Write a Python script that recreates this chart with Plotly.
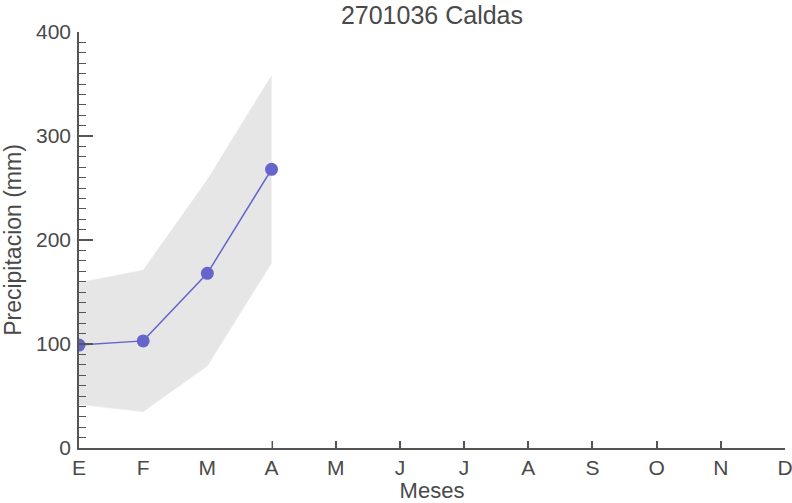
import plotly.graph_objects as go

months = ["E", "F", "M", "A", "M", "J", "J", "A", "S", "O", "N", "D"]
mean_x = [0, 1, 2, 3]
mean_vals = [99, 103, 168, 268]
band_low = [42, 35, 79, 178]
band_high = [159, 171, 258, 358]

TXT = "#4a4a4a"
AX = "#555555"
FONT = "Liberation Sans, Arial, Helvetica, sans-serif"

fig = go.Figure()
# white area from zero up to the lower bound (hides the inner x ticks like the original)
fig.add_trace(go.Scatter(x=mean_x, y=band_low, mode="lines", fill="tozeroy",
                         fillcolor="white", line=dict(color="#ececec", width=1),
                         hoverinfo="skip", showlegend=False))
# gray band
fig.add_trace(go.Scatter(x=mean_x, y=band_high, mode="lines", fill="tonexty",
                         fillcolor="#e6e6e6", line=dict(color="#e6e6e6", width=0.5),
                         hoverinfo="skip", showlegend=False))
# mean line
fig.add_trace(go.Scatter(x=mean_x, y=mean_vals, mode="lines+markers",
                         line=dict(color="#6565cc", width=1.5),
                         marker=dict(color="#6565cc", size=13),
                         showlegend=False))

fig.update_layout(
    width=792, height=503,
    margin=dict(l=79, r=7, t=32, b=55, autoexpand=False),
    paper_bgcolor="white", plot_bgcolor="white",
    font=dict(family=FONT, color=TXT, size=21),
    title=dict(text="2701036 Caldas", x=0.5454, xanchor="center",
               y=0.969, yanchor="middle", font=dict(size=25, color=TXT)),
)
fig.update_xaxes(
    range=[0, 11], tickmode="array", tickvals=list(range(12)), ticktext=months,
    showgrid=False, zeroline=False, showline=True, linecolor=AX, linewidth=1.5,
    ticks="inside", ticklen=7, tickwidth=1.5, tickcolor=AX,
    tickfont=dict(size=21, color=TXT), layer="below traces",
    automargin=False, ticklabeloverflow="allow",
    title=dict(text="Meses", font=dict(size=22, color=TXT), standoff=4),
)
fig.update_yaxes(
    range=[0, 400], tickmode="array", tickvals=[0, 100, 200, 300, 400],
    showgrid=False, zeroline=False, showline=True, linecolor=AX, linewidth=1.5,
    ticks="inside", ticklen=14, tickwidth=1.5, tickcolor=AX,
    minor=dict(ticks="inside", dtick=10, ticklen=7, tickwidth=1.2, tickcolor=AX, showgrid=False),
    tickfont=dict(size=21, color=TXT), ticklabelstandoff=2,
    automargin=False, ticklabeloverflow="allow",
    title=dict(text="Precipitacion (mm)", font=dict(size=23, color=TXT), standoff=8),
)

fig.write_html("out.html", config={"displayModeBar": False},
               post_script="document.body.style.margin='0px';document.body.style.overflow='hidden';")
